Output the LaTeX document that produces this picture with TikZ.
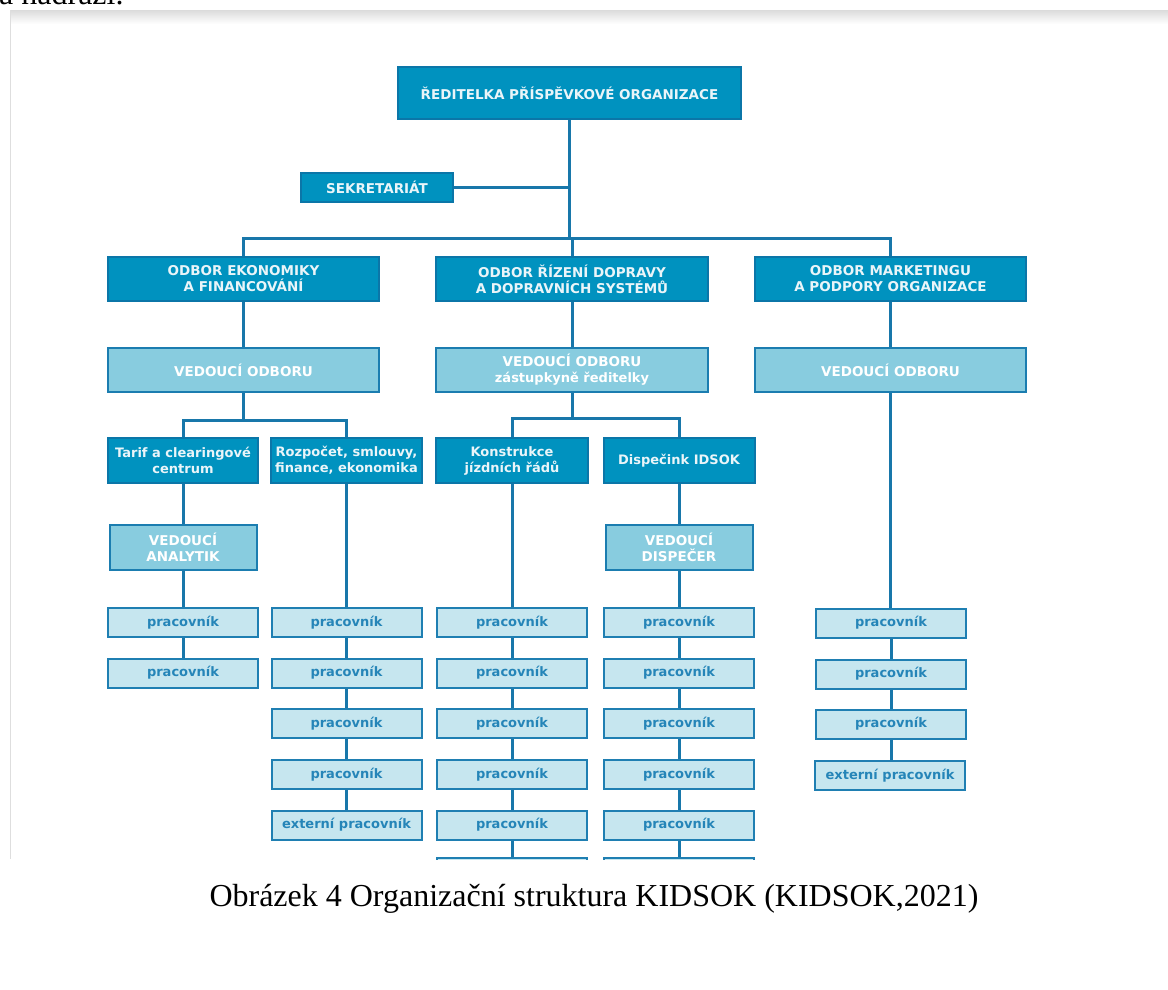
\documentclass[tikz,border=0pt]{standalone}
\usepackage{fontspec}
\setmainfont{Liberation Serif}
\newfontfamily\boxfont{DejaVu Sans}
\definecolor{dark}{HTML}{0092BF}
\definecolor{darkb}{HTML}{0B76A8}
\definecolor{mid}{HTML}{88CCDF}
\definecolor{midb}{HTML}{1B7DB0}
\definecolor{pale}{HTML}{C6E6EF}
\definecolor{paleb}{HTML}{1F7FB2}
\definecolor{ln}{HTML}{1877AA}
\definecolor{ptext}{HTML}{2585B8}
\definecolor{dtext}{HTML}{EAF5F9}
\begin{document}
\begin{tikzpicture}[x=1pt,y=-1pt,
  base/.style={draw, line width=2pt, inner sep=0pt, align=center,
    font=\boxfont\bfseries\fontsize{13.5}{16}\selectfont},
  small/.style={font=\boxfont\bfseries\fontsize{13}{16}\selectfont},
  dbox/.style={base, fill=dark, draw=darkb, text=dtext},
  mbox/.style={base, fill=mid, draw=midb, text=white},
  pbox/.style={base, small, fill=pale, draw=paleb, text=ptext, minimum width=150pt, minimum height=29pt},
  conn/.style={draw=ln, line width=3pt},
  caption/.style={font=\fontsize{32}{38}\selectfont, inner sep=0pt}]
\useasboundingbox (0,0) rectangle (1168,989);
\fill[white] (0,0) rectangle (1168,989);
% page frame of the screenshot
\shade[top color=black!14, bottom color=white] (10,10) rectangle (1168,24);
\draw[black!13, line width=1pt] (10.5,10) -- (10.5,859);
\node[caption, anchor=base west] (prev) at (-1,4.5) {a nádraží.};

% top
\node[dbox, minimum width=343pt, minimum height=52pt] (dir) at (569.5,93) {ŘEDITELKA PŘÍSPĚVKOVÉ ORGANIZACE};
\node[dbox, minimum width=152pt, minimum height=29pt] (sek) at (377,187.5) {SEKRETARIÁT};
\coordinate (b1) at (0,238);
\coordinate (b2) at (0,420);
\coordinate (b3) at (0,418);

% departments
\node[dbox, minimum width=271pt, minimum height=44pt] (eko) at (243.5,279) {ODBOR EKONOMIKY\\A FINANCOVÁNÍ};
\node[dbox, minimum width=272pt, minimum height=44pt] (riz) at (572,279) {ODBOR ŘÍZENÍ DOPRAVY\\A DOPRAVNÍCH SYSTÉMŮ};
\node[dbox, minimum width=271pt, minimum height=44pt] (mar) at (890.5,279) {ODBOR MARKETINGU\\A PODPORY ORGANIZACE};

\node[mbox, minimum width=271pt, minimum height=44pt] (veko) at (243.5,370) {VEDOUCÍ ODBORU};
\node[mbox, minimum width=272pt, minimum height=44pt] (vriz) at (572,370) {VEDOUCÍ ODBORU\\{\fontsize{13}{16}\selectfont zástupkyně ředitelky}};
\node[mbox, minimum width=271pt, minimum height=44pt] (vmar) at (890.5,370) {VEDOUCÍ ODBORU};

% sections
\node[dbox, small, minimum width=150pt, minimum height=45pt] (tarif) at (183,460.5) {Tarif a clearingové\\centrum};
\node[dbox, small, minimum width=151pt, minimum height=45pt] (rozp) at (346.5,460.5) {Rozpočet, smlouvy,\\finance, ekonomika};
\node[dbox, small, minimum width=152pt, minimum height=45pt] (kons) at (512,460.5) {Konstrukce\\jízdních řádů};
\node[dbox, small, minimum width=151pt, minimum height=45pt] (disp) at (679,460.5) {Dispečink IDSOK};

\node[mbox, minimum width=147pt, minimum height=45pt] (van) at (183,547.5) {VEDOUCÍ\\ANALYTIK};
\node[mbox, minimum width=147pt, minimum height=45pt] (vdis) at (679,547.5) {VEDOUCÍ\\DISPEČER};

% workers
\node[pbox] (p11) at (183,622.5) {pracovník};
\node[pbox] (p12) at (183,673) {pracovník};

\node[pbox] (p21) at (346.5,622.5) {pracovník};
\node[pbox] (p22) at (346.5,673) {pracovník};
\node[pbox] (p23) at (346.5,723.5) {pracovník};
\node[pbox] (p24) at (346.5,774.5) {pracovník};
\node[pbox] (p25) at (346.5,825) {externí pracovník};

\node[pbox] (p31) at (512,622.5) {pracovník};
\node[pbox] (p32) at (512,673) {pracovník};
\node[pbox] (p33) at (512,723.5) {pracovník};
\node[pbox] (p34) at (512,774.5) {pracovník};
\node[pbox] (p35) at (512,825) {pracovník};

\node[pbox] (p41) at (679,622.5) {pracovník};
\node[pbox] (p42) at (679,673) {pracovník};
\node[pbox] (p43) at (679,723.5) {pracovník};
\node[pbox] (p44) at (679,774.5) {pracovník};
\node[pbox] (p45) at (679,825) {pracovník};

\node[pbox] (p51) at (891,623) {pracovník};
\node[pbox] (p52) at (891,674) {pracovník};
\node[pbox] (p53) at (891,724) {pracovník};
\node[pbox] (p54) at (890,775.5) {externí pracovník};

% cut-off continuation at the bottom of the screenshot
\begin{scope}
  \clip (0,0) rectangle (1168,859);
  \node[pbox] (p36) at (512,872) {};
  \node[pbox] (p46) at (679,872) {};
  \draw[conn] (p35.south) -- (p36.north);
  \draw[conn] (p45.south) -- (p46.north);
\end{scope}

% connectors
\draw[conn] (dir.south) -- (dir.south |- b1);
\draw[conn] (sek.east) -- (sek.east -| dir.south);
\draw[conn] (eko.north) -- (eko.north |- b1) -- (mar.north |- b1) -- (mar.north);
\draw[conn] (riz.north) -- (riz.north |- b1);
\draw[conn] (eko.south) -- (veko.north);
\draw[conn] (riz.south) -- (vriz.north);
\draw[conn] (mar.south) -- (vmar.north);

\draw[conn] (veko.south) -- (veko.south |- b2);
\draw[conn] (tarif.north) -- (tarif.north |- b2) -- (rozp.north |- b2) -- (rozp.north);
\draw[conn] (vriz.south) -- (vriz.south |- b3);
\draw[conn] (kons.north) -- (kons.north |- b3) -- (disp.north |- b3) -- (disp.north);

\draw[conn] (tarif.south) -- (van.north);
\draw[conn] (van.south) -- (p11.north);
\draw[conn] (p11.south) -- (p12.north);

\draw[conn] (rozp.south) -- (p21.north);
\draw[conn] (p21.south) -- (p22.north);
\draw[conn] (p22.south) -- (p23.north);
\draw[conn] (p23.south) -- (p24.north);
\draw[conn] (p24.south) -- (p25.north);

\draw[conn] (kons.south) -- (p31.north);
\draw[conn] (p31.south) -- (p32.north);
\draw[conn] (p32.south) -- (p33.north);
\draw[conn] (p33.south) -- (p34.north);
\draw[conn] (p34.south) -- (p35.north);

\draw[conn] (disp.south) -- (vdis.north);
\draw[conn] (vdis.south) -- (p41.north);
\draw[conn] (p41.south) -- (p42.north);
\draw[conn] (p42.south) -- (p43.north);
\draw[conn] (p43.south) -- (p44.north);
\draw[conn] (p44.south) -- (p45.north);

\draw[conn] (vmar.south) -- (vmar.south |- p51.north);
\draw[conn] (p51.south) -- (p52.north);
\draw[conn] (p52.south) -- (p53.north);
\draw[conn] (p53.south) -- (p53.south |- p54.north);

\node[caption, anchor=base] (cap) at (594,906) {Obrázek 4 Organizační struktura KIDSOK (KIDSOK,2021)};
\end{tikzpicture}
\end{document}
